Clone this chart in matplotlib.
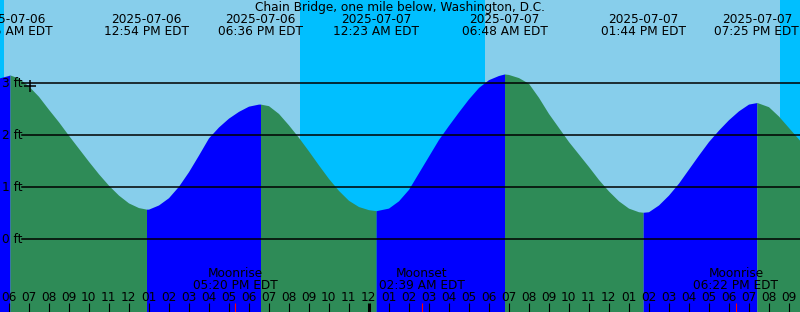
import numpy as np
import matplotlib
matplotlib.use("Agg")
import matplotlib.pyplot as plt

# ── Data (hours counted from 2025-07-06 00:00 EDT) ─────────────────
STATION = "Chain Bridge, one mile below, Washington, D.C."

# water level read every half hour, 05:00 on 07-06 to 22:00 on 07-07
level_t = np.arange(5.0, 46.25, 0.5)
level_h = [
    3.02, 3.10, 3.15, 3.10, 2.95, 2.75, 2.50, 2.26, 2.00, 1.75,   # 05:00-09:30
    1.50, 1.26, 1.04, 0.85, 0.70, 0.61, 0.58, 0.66, 0.80, 1.02,   # 10:00-14:30
    1.30, 1.62, 1.95, 2.16, 2.33, 2.46, 2.56, 2.60, 2.57, 2.42,   # 15:00-19:30
    2.20, 1.96, 1.70, 1.43, 1.17, 0.94, 0.75, 0.63, 0.57, 0.56,   # 20:00-00:30
    0.60, 0.74, 0.96, 1.28, 1.60, 1.92, 2.19, 2.45, 2.70, 2.92,   # 01:00-05:30
    3.07, 3.15, 3.17, 3.11, 3.00, 2.73, 2.42, 2.15, 1.88, 1.64,   # 06:00-10:30
    1.40, 1.15, 0.93, 0.74, 0.60, 0.53, 0.53, 0.66, 0.85, 1.08,   # 11:00-15:30
    1.35, 1.62, 1.88, 2.10, 2.30, 2.47, 2.60, 2.62, 2.55, 2.37,   # 16:00-20:30
    2.15, 1.93, 1.70,                                             # 21:00-22:00
]

extreme_t = [6.075, 12.9, 18.6, 24.383, 30.8, 37.733, 43.417]
extreme_h = [3.16, 0.58, 2.60, 0.55, 3.18, 0.52, 2.63]
extreme_is_high = [True, False, True, False, True, False, True]
extreme_date = ["2025-07-06", "2025-07-06", "2025-07-06", "2025-07-07",
                "2025-07-07", "2025-07-07", "2025-07-07"]
extreme_time = ["06:05 AM EDT", "12:54 PM EDT", "06:36 PM EDT", "12:23 AM EDT",
                "06:48 AM EDT", "01:44 PM EDT", "07:25 PM EDT"]

sunrise_t = [5.775, 29.825]
sunset_t = [20.575, 44.575]

moon_t = [17.333, 26.65, 42.367]
moon_event = ["Moonrise", "Moonset", "Moonrise"]
moon_time = ["05:20 PM EDT", "02:39 AM EDT", "06:22 PM EDT"]

now_t, now_h = 7.075, 2.95
gridlines_ft = [0, 1, 2, 3]

# ── Colours / geometry ────────────────────────────────────────────
DAY = "#87CEEB"
NIGHT = "#00BFFF"
EBB = "#2E8B57"
FLOOD = "#0000FF"
W, H = 800, 312
X0, PX_PER_H = 8.5, 20.0          # pixel of 06:00, pixels per hour
Y0, PX_PER_FT = 239.3, 52.0       # pixel of 0 ft, pixels per foot
FS = 8.7

xmin = 6 - X0 / PX_PER_H
xmax = xmin + W / PX_PER_H
ybot = (Y0 - H) / PX_PER_FT
ytop = Y0 / PX_PER_FT


def yfrac(py):
    return 1 - py / H


fig = plt.figure(figsize=(W / 100, H / 100), dpi=100)
ax = fig.add_axes([0, 0, 1, 1])
ax.set_xlim(xmin, xmax)
ax.set_ylim(ybot, ytop)
ax.axis("off")

# sky: day then night bands
ax.axvspan(xmin, xmax, color=DAY, lw=0)
night_edges = [xmin] + sorted(sunrise_t + sunset_t) + [xmax]
for a, b in zip(night_edges[0::2], night_edges[1::2]):
    ax.axvspan(a, b, color=NIGHT, lw=0)

# water level, coloured by flood / ebb
t_all = np.concatenate([level_t, extreme_t])
h_all = np.concatenate([level_h, extreme_h])
order = np.argsort(t_all)
t_all, h_all = t_all[order], h_all[order]

bounds = [t_all[0]] + extreme_t + [t_all[-1]]
rising = [extreme_is_high[0]] + [not hi for hi in extreme_is_high]
for a, b, up in zip(bounds[:-1], bounds[1:], rising):
    m = (t_all >= a) & (t_all <= b)
    ax.fill_between(t_all[m], ybot, h_all[m], color=FLOOD if up else EBB,
                    lw=0, zorder=2)

# depth lines + labels
for ft in gridlines_ft:
    ax.axhline(ft, xmin=22 / W, xmax=1, color="black", lw=1.1, zorder=3)
    ax.text(xmin + 2 / PX_PER_H, ft, f"{ft} ft", fontsize=FS,
            ha="left", va="center", zorder=4)

ax.plot([now_t], [now_h], "+", color="black", ms=8, mew=1.1, zorder=5)

# header text
xt = ax.get_xaxis_transform()
ax.text(0.5, yfrac(7.3), STATION, transform=ax.transAxes, fontsize=FS,
        ha="center", va="center")
for t, d, s in zip(extreme_t, extreme_date, extreme_time):
    ax.text(t, yfrac(19.5), d, transform=xt, fontsize=FS, ha="center", va="center")
    ax.text(t, yfrac(31.7), s, transform=xt, fontsize=FS, ha="center", va="center")

# moon events
for t, ev, s in zip(moon_t, moon_event, moon_time):
    ax.text(t, yfrac(273.3), ev, transform=xt, fontsize=FS, ha="center", va="center")
    ax.text(t, yfrac(285.7), s, transform=xt, fontsize=FS, ha="center", va="center")
    ax.vlines(t, 0, yfrac(303), transform=xt, color="red", lw=0.8, zorder=5)

# hour ticks along the bottom
for hr in range(int(np.ceil(xmin)), int(xmax) + 1):
    h12 = hr % 12 or 12
    ax.text(hr, yfrac(297.7), f"{h12:02d}", transform=xt, fontsize=FS,
            ha="center", va="center", zorder=4)
    lw = 2.2 if hr % 24 == 0 else 0.8
    ax.vlines(hr, 0, yfrac(303), transform=xt, color="black", lw=lw, zorder=4)

fig.savefig("out.png", dpi=100)
